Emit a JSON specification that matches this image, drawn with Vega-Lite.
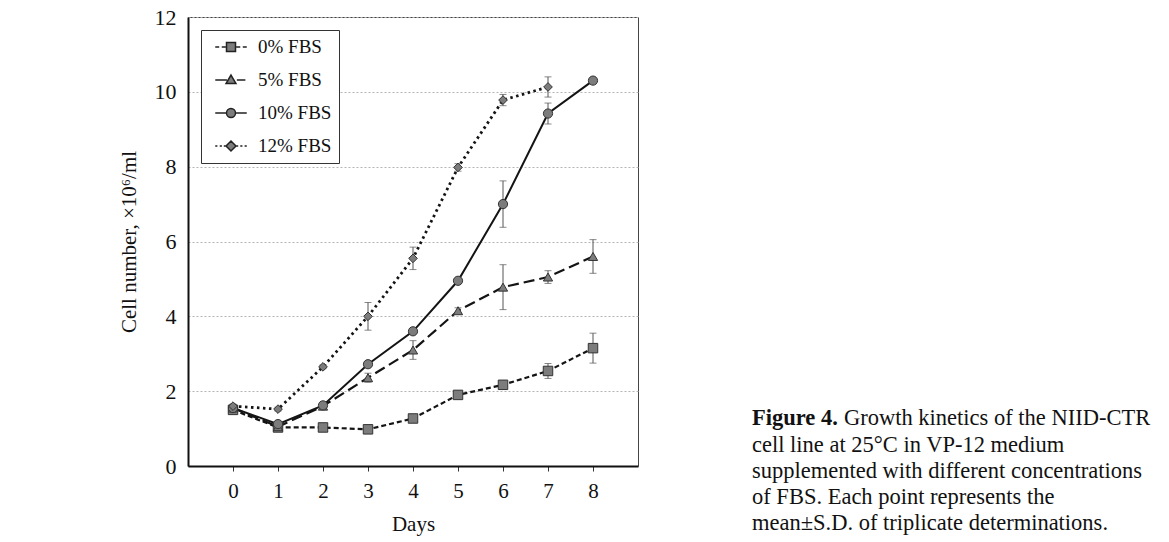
{
  "$schema": "https://vega.github.io/schema/vega-lite/v6.json",
  "background": "white",
  "padding": {"left": 117, "top": 5, "right": 0, "bottom": 0},
  "spacing": 113,
  "config": {
    "font": "Liberation Serif",
    "view": {"stroke": null},
    "axis": {"labelFont": "Liberation Serif", "titleFont": "Liberation Serif", "labelColor": "#111", "titleColor": "#111", "titleFontWeight": "normal"},
    "legend": {"labelFont": "Liberation Serif"}
  },
  "datasets": {
    "growth": [
      {"day": 0, "series": "0% FBS", "mean": 1.5, "sd": 0.05},
      {"day": 1, "series": "0% FBS", "mean": 1.03, "sd": 0.05},
      {"day": 2, "series": "0% FBS", "mean": 1.03, "sd": 0.05},
      {"day": 3, "series": "0% FBS", "mean": 0.98, "sd": 0.05},
      {"day": 4, "series": "0% FBS", "mean": 1.27, "sd": 0.07},
      {"day": 5, "series": "0% FBS", "mean": 1.9, "sd": 0.1},
      {"day": 6, "series": "0% FBS", "mean": 2.17, "sd": 0.1},
      {"day": 7, "series": "0% FBS", "mean": 2.54, "sd": 0.2},
      {"day": 8, "series": "0% FBS", "mean": 3.15, "sd": 0.4},
      {"day": 0, "series": "5% FBS", "mean": 1.55, "sd": 0.05},
      {"day": 1, "series": "5% FBS", "mean": 1.05, "sd": 0.05},
      {"day": 2, "series": "5% FBS", "mean": 1.6, "sd": 0.05},
      {"day": 3, "series": "5% FBS", "mean": 2.36, "sd": 0.12},
      {"day": 4, "series": "5% FBS", "mean": 3.1, "sd": 0.25},
      {"day": 5, "series": "5% FBS", "mean": 4.15, "sd": 0.08},
      {"day": 6, "series": "5% FBS", "mean": 4.78, "sd": 0.6},
      {"day": 7, "series": "5% FBS", "mean": 5.05, "sd": 0.17},
      {"day": 8, "series": "5% FBS", "mean": 5.6, "sd": 0.45},
      {"day": 0, "series": "10% FBS", "mean": 1.55, "sd": 0.05},
      {"day": 1, "series": "10% FBS", "mean": 1.12, "sd": 0.05},
      {"day": 2, "series": "10% FBS", "mean": 1.62, "sd": 0.05},
      {"day": 3, "series": "10% FBS", "mean": 2.72, "sd": 0.05},
      {"day": 4, "series": "10% FBS", "mean": 3.6, "sd": 0.05},
      {"day": 5, "series": "10% FBS", "mean": 4.95, "sd": 0.05},
      {"day": 6, "series": "10% FBS", "mean": 7.0, "sd": 0.62},
      {"day": 7, "series": "10% FBS", "mean": 9.42, "sd": 0.28},
      {"day": 8, "series": "10% FBS", "mean": 10.3, "sd": 0.05},
      {"day": 0, "series": "12% FBS", "mean": 1.6, "sd": 0.05},
      {"day": 1, "series": "12% FBS", "mean": 1.52, "sd": 0.05},
      {"day": 2, "series": "12% FBS", "mean": 2.65, "sd": 0.05},
      {"day": 3, "series": "12% FBS", "mean": 4.0, "sd": 0.37},
      {"day": 4, "series": "12% FBS", "mean": 5.55, "sd": 0.3},
      {"day": 5, "series": "12% FBS", "mean": 7.98, "sd": 0.1},
      {"day": 6, "series": "12% FBS", "mean": 9.78, "sd": 0.15},
      {"day": 7, "series": "12% FBS", "mean": 10.13, "sd": 0.27}
    ],
    "caption": [
      {"line": 0, "style": "bold", "text": "Figure 4."},
      {"line": 0, "style": "lead", "text": "Growth kinetics of the NIID-CTR"},
      {"line": 1, "style": "body", "text": "cell line at 25°C in VP-12 medium"},
      {"line": 2, "style": "body", "text": "supplemented with different concentrations"},
      {"line": 3, "style": "body", "text": "of FBS. Each point represents the"},
      {"line": 4, "style": "body", "text": "mean±S.D. of triplicate determinations."}
    ]
  },
  "hconcat": [
    {
      "width": 450,
      "height": 449,
      "view": {"stroke": "#444"},
      "data": {"name": "growth"},
      "encoding": {
        "x": {
          "field": "day", "type": "quantitative",
          "scale": {"domain": [-1, 9], "nice": false, "zero": false},
          "axis": {"values": [0, 1, 2, 3, 4, 5, 6, 7, 8], "grid": false, "tickSize": 5, "tickColor": "#333", "domainColor": "#111", "domainWidth": 2, "labelFontSize": 21, "labelPadding": 9, "title": "Days", "titleFontSize": 21, "titlePadding": 12}
        },
        "y": {
          "field": "mean", "type": "quantitative",
          "scale": {"domain": [0, 12], "nice": false},
          "axis": {"values": [0, 2, 4, 6, 8, 10, 12], "grid": true, "gridColor": "#b5b5b5", "gridDash": [2, 2], "gridWidth": 1, "tickSize": 0, "domainColor": "#111", "domainWidth": 2, "labelFontSize": 22, "labelPadding": 12, "title": "Cell number, ×10⁶/ml", "titleFontSize": 21, "titlePadding": 15}
        }
      },
      "layer": [
        {
          "transform": [{"filter": {"field": "series", "equal": "0% FBS"}}],
          "mark": {"type": "line", "color": "#141414", "strokeWidth": 2.2, "strokeDash": [5, 3]}
        },
        {
          "transform": [{"filter": {"field": "series", "equal": "5% FBS"}}],
          "mark": {"type": "line", "color": "#141414", "strokeWidth": 2.2, "strokeDash": [11, 5]}
        },
        {
          "transform": [{"filter": {"field": "series", "equal": "10% FBS"}}],
          "mark": {"type": "line", "color": "#141414", "strokeWidth": 2}
        },
        {
          "transform": [{"filter": {"field": "series", "equal": "12% FBS"}}],
          "mark": {"type": "line", "color": "#141414", "strokeWidth": 2.8, "strokeDash": [2.5, 3.5]}
        },
        {
          "mark": {"type": "errorbar", "ticks": {"size": 7, "color": "#555"}, "color": "#555", "thickness": 1},
          "encoding": {
            "y": {"field": "mean", "type": "quantitative"},
            "yError": {"field": "sd"}
          }
        },
        {
          "transform": [{"filter": {"field": "series", "equal": "0% FBS"}}],
          "mark": {"type": "point", "shape": "square", "filled": true, "fill": "#7c7c7c", "stroke": "#333", "strokeWidth": 1, "size": 90, "opacity": 1}
        },
        {
          "transform": [{"filter": {"field": "series", "equal": "5% FBS"}}],
          "mark": {"type": "point", "shape": "triangle-up", "filled": true, "fill": "#7c7c7c", "stroke": "#333", "strokeWidth": 1, "size": 85, "opacity": 1}
        },
        {
          "transform": [{"filter": {"field": "series", "equal": "10% FBS"}}],
          "mark": {"type": "point", "shape": "circle", "filled": true, "fill": "#7c7c7c", "stroke": "#333", "strokeWidth": 1, "size": 85, "opacity": 1}
        },
        {
          "transform": [{"filter": {"field": "series", "equal": "12% FBS"}}],
          "mark": {"type": "point", "shape": "diamond", "filled": true, "fill": "#7c7c7c", "stroke": "#333", "strokeWidth": 1, "size": 75, "opacity": 1}
        },
        {
          "transform": [{"filter": "datum.day > 100"}],
          "mark": {"type": "point", "filled": true, "fill": "#7c7c7c", "stroke": "#222", "strokeWidth": 1.8, "size": 324},
          "encoding": {
            "shape": {
              "field": "series", "type": "nominal",
              "scale": {
                "domain": ["0% FBS", "5% FBS", "10% FBS", "12% FBS"],
                "range": [
                  "M-1.75,0H-1.31M-1.03,0H-0.59M0.59,0H1.03M1.31,0H1.75M-0.5,-0.5H0.5V0.5H-0.5Z",
                  "M-1.75,0H-0.45M0.65,0H1.6M0,-0.55L0.55,0.4H-0.55Z",
                  "M-1.75,0H-0.5M0.5,0H1.75M-0.5,0A0.5,0.5 0 1,0 0.5,0A0.5,0.5 0 1,0 -0.5,0Z",
                  "M-1.75,0h0.24M-1.25,0h0.24M-0.8,0h0.24M0.56,0h0.24M1.03,0h0.24M1.51,0h0.24M0,-0.55L0.55,0L0,0.55L-0.55,0Z"
                ]
              },
              "legend": {
                "title": null, "orient": "top-left", "offset": 13, "padding": 7,
                "symbolSize": 324, "symbolOffset": 13, "symbolOpacity": 1,
                "labelFontSize": 19, "labelOffset": 17, "labelColor": "#111", "rowPadding": 13,
                "strokeColor": "#333", "fillColor": "white",
                "encode": {
                  "symbols": {"stroke": {"value": "#1a1a1a"}, "strokeWidth": {"value": 1.8}, "fill": {"value": "#7c7c7c"}, "opacity": {"value": 1}},
                  "legend": {"stroke": {"value": "#222"}, "strokeWidth": {"value": 1.8}}
                }
              }
            }
          }
        }
      ]
    },
    {
      "width": 416,
      "height": 530,
      "data": {"name": "caption"},
      "encoding": {
        "x": {"datum": 0, "type": "quantitative", "scale": {"domain": [0, 1]}, "axis": null},
        "y": {"field": "line", "type": "quantitative", "scale": {"domain": [-15.3, 4.9], "reverse": true, "nice": false, "zero": false}, "axis": null},
        "text": {"field": "text"}
      },
      "layer": [
        {
          "transform": [{"filter": "datum.style == 'bold'"}],
          "mark": {"type": "text", "align": "left", "baseline": "middle", "font": "Liberation Serif", "fontSize": 22.5, "fontWeight": "bold", "color": "#111"}
        },
        {
          "transform": [{"filter": "datum.style == 'lead'"}],
          "mark": {"type": "text", "align": "left", "baseline": "middle", "font": "Liberation Serif", "fontSize": 22.5, "color": "#111", "dx": 92}
        },
        {
          "transform": [{"filter": "datum.style == 'body'"}],
          "mark": {"type": "text", "align": "left", "baseline": "middle", "font": "Liberation Serif", "fontSize": 22.5, "color": "#111"}
        }
      ]
    }
  ]
}
